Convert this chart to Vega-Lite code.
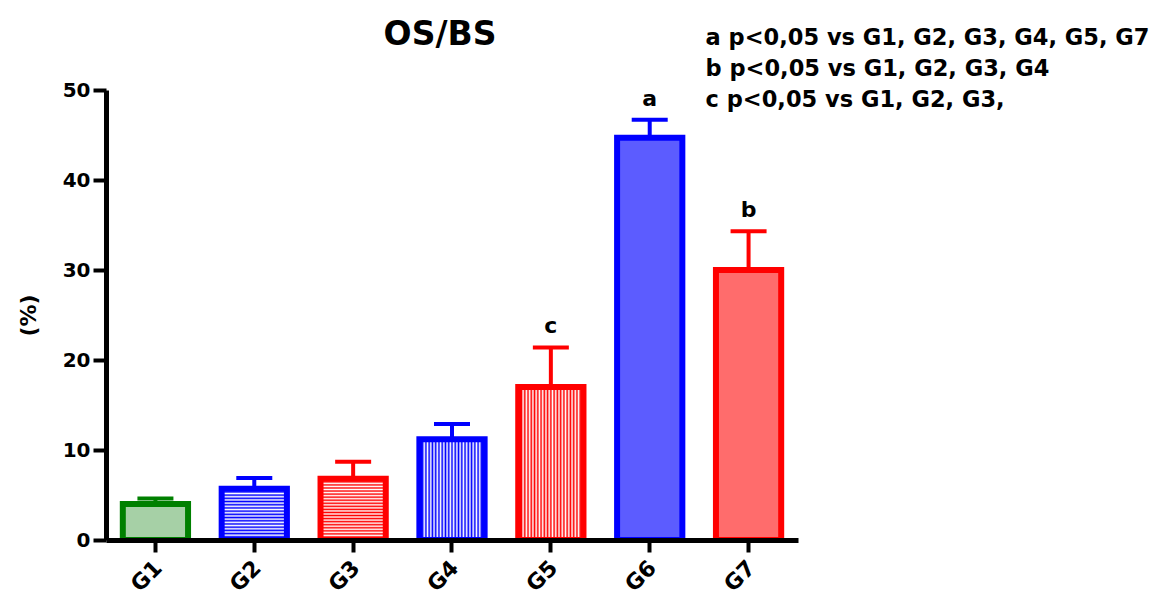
{
  "$schema": "https://vega.github.io/schema/vega-lite/v6.json",
  "width": 692,
  "height": 450,
  "autosize": {"type": "none"},
  "padding": {"left": 106, "top": 90, "right": 361, "bottom": 60},
  "background": "white",
  "config": {"view": {"stroke": null}, "font": "DejaVu Sans"},
  "title": {"text": "OS/BS", "font": "DejaVu Sans", "fontSize": 33, "fontWeight": "bold", "color": "black", "anchor": "middle", "frame": "group", "baseline": "alphabetic", "dx": -12, "offset": 0, "dy": 51},
  "data": {"values": [
    {"g": "G1", "mean": 4.0, "upper": 4.6, "sig": ""},
    {"g": "G2", "mean": 5.7, "upper": 6.9, "sig": ""},
    {"g": "G3", "mean": 6.8, "upper": 8.7, "sig": ""},
    {"g": "G4", "mean": 11.2, "upper": 12.9, "sig": ""},
    {"g": "G5", "mean": 17.0, "upper": 21.4, "sig": "c"},
    {"g": "G6", "mean": 44.7, "upper": 46.7, "sig": "a"},
    {"g": "G7", "mean": 30.0, "upper": 34.3, "sig": "b"}
  ]},
  "encoding": {
    "x": {"field": "g", "type": "nominal", "sort": null,
      "scale": {"paddingInner": 0.34, "paddingOuter": 0.17},
      "axis": {"title": null, "labelAngle": -45, "labelAlign": "right", "labelBaseline": "middle", "labelFont": "DejaVu Sans", "labelFontWeight": "bold", "labelFontSize": 22, "labelColor": "black", "labelPadding": 12, "labelOffset": 3, "domainColor": "black", "domainWidth": 5, "tickColor": "black", "tickWidth": 4, "tickSize": 12, "grid": false, "zindex": 1}}
  },
  "layer": [
    {
      "mark": {"type": "rule", "strokeWidth": 4, "opacity": 1},
      "encoding": {
        "y": {"field": "mean", "type": "quantitative", "scale": {"domain": [0, 50], "nice": false},
          "axis": {"title": "(%)", "titleFont": "DejaVu Sans", "titleFontSize": 22, "titleFontWeight": "bold", "titleColor": "black", "titlePadding": 22, "values": [0, 10, 20, 30, 40, 50], "labelFont": "DejaVu Sans", "labelFontSize": 20, "labelFontWeight": "bold", "labelColor": "black", "labelPadding": 3, "domainColor": "black", "domainWidth": 5, "tickColor": "black", "tickWidth": 4, "tickSize": 13, "grid": false, "zindex": 1}},
        "y2": {"field": "upper"},
        "color": {"field": "g", "type": "nominal", "scale": {"domain": ["G1","G2","G3","G4","G5","G6","G7"], "range": ["#008000","#0000ff","#ff0000","#0000ff","#ff0000","#0000ff","#ff0000"]}, "legend": null}
      }
    },
    {
      "mark": {"type": "tick", "size": 36, "thickness": 4, "opacity": 1},
      "encoding": {
        "y": {"field": "upper", "type": "quantitative"},
        "color": {"field": "g", "type": "nominal", "legend": null}
      }
    },
    {
      "mark": {"type": "bar", "strokeWidth": 6},
      "encoding": {
        "y": {"field": "mean", "type": "quantitative"},
        "stroke": {"field": "g", "type": "nominal", "scale": {"domain": ["G1","G2","G3","G4","G5","G6","G7"], "range": ["#008000","#0000ff","#ff0000","#0000ff","#ff0000","#0000ff","#ff0000"]}, "legend": null},
        "fill": {
          "condition": [
            {"test": "datum.g === 'G1'", "value": "#a6d0a6"},
            {"test": "datum.g === 'G6'", "value": "#5c5cff"},
            {"test": "datum.g === 'G7'", "value": "#ff6c6c"},
            {"test": "datum.g === 'G2'", "value": {"gradient": "linear", "x1": 0, "y1": 0, "x2": 0, "y2": 1, "stops": [
              {"offset": 0, "color": "#0000ff"}, {"offset": 0.03125, "color": "#ffffff"}, {"offset": 0.0625, "color": "#0000ff"}, {"offset": 0.09375, "color": "#ffffff"},
              {"offset": 0.125, "color": "#0000ff"}, {"offset": 0.15625, "color": "#ffffff"}, {"offset": 0.1875, "color": "#0000ff"}, {"offset": 0.21875, "color": "#ffffff"},
              {"offset": 0.25, "color": "#0000ff"}, {"offset": 0.28125, "color": "#ffffff"}, {"offset": 0.3125, "color": "#0000ff"}, {"offset": 0.34375, "color": "#ffffff"},
              {"offset": 0.375, "color": "#0000ff"}, {"offset": 0.40625, "color": "#ffffff"}, {"offset": 0.4375, "color": "#0000ff"}, {"offset": 0.46875, "color": "#ffffff"},
              {"offset": 0.5, "color": "#0000ff"}, {"offset": 0.53125, "color": "#ffffff"}, {"offset": 0.5625, "color": "#0000ff"}, {"offset": 0.59375, "color": "#ffffff"},
              {"offset": 0.625, "color": "#0000ff"}, {"offset": 0.65625, "color": "#ffffff"}, {"offset": 0.6875, "color": "#0000ff"}, {"offset": 0.71875, "color": "#ffffff"},
              {"offset": 0.75, "color": "#0000ff"}, {"offset": 0.78125, "color": "#ffffff"}, {"offset": 0.8125, "color": "#0000ff"}, {"offset": 0.84375, "color": "#ffffff"},
              {"offset": 0.875, "color": "#0000ff"}, {"offset": 0.90625, "color": "#ffffff"}, {"offset": 0.9375, "color": "#0000ff"}, {"offset": 0.96875, "color": "#ffffff"},
              {"offset": 1, "color": "#0000ff"}]}},
            {"test": "datum.g === 'G3'", "value": {"gradient": "linear", "x1": 0, "y1": 0, "x2": 0, "y2": 1, "stops": [
              {"offset": 0, "color": "#ff0000"}, {"offset": 0.025, "color": "#ffffff"}, {"offset": 0.05, "color": "#ff0000"}, {"offset": 0.075, "color": "#ffffff"},
              {"offset": 0.1, "color": "#ff0000"}, {"offset": 0.125, "color": "#ffffff"}, {"offset": 0.15, "color": "#ff0000"}, {"offset": 0.175, "color": "#ffffff"},
              {"offset": 0.2, "color": "#ff0000"}, {"offset": 0.225, "color": "#ffffff"}, {"offset": 0.25, "color": "#ff0000"}, {"offset": 0.275, "color": "#ffffff"},
              {"offset": 0.3, "color": "#ff0000"}, {"offset": 0.325, "color": "#ffffff"}, {"offset": 0.35, "color": "#ff0000"}, {"offset": 0.375, "color": "#ffffff"},
              {"offset": 0.4, "color": "#ff0000"}, {"offset": 0.425, "color": "#ffffff"}, {"offset": 0.45, "color": "#ff0000"}, {"offset": 0.475, "color": "#ffffff"},
              {"offset": 0.5, "color": "#ff0000"}, {"offset": 0.525, "color": "#ffffff"}, {"offset": 0.55, "color": "#ff0000"}, {"offset": 0.575, "color": "#ffffff"},
              {"offset": 0.6, "color": "#ff0000"}, {"offset": 0.625, "color": "#ffffff"}, {"offset": 0.65, "color": "#ff0000"}, {"offset": 0.675, "color": "#ffffff"},
              {"offset": 0.7, "color": "#ff0000"}, {"offset": 0.725, "color": "#ffffff"}, {"offset": 0.75, "color": "#ff0000"}, {"offset": 0.775, "color": "#ffffff"},
              {"offset": 0.8, "color": "#ff0000"}, {"offset": 0.825, "color": "#ffffff"}, {"offset": 0.85, "color": "#ff0000"}, {"offset": 0.875, "color": "#ffffff"},
              {"offset": 0.9, "color": "#ff0000"}, {"offset": 0.925, "color": "#ffffff"}, {"offset": 0.95, "color": "#ff0000"}, {"offset": 0.975, "color": "#ffffff"},
              {"offset": 1, "color": "#ff0000"}]}},
            {"test": "datum.g === 'G4'", "value": {"gradient": "linear", "x1": 0, "y1": 0, "x2": 1, "y2": 0, "stops": [
              {"offset": 0, "color": "#0000ff"}, {"offset": 0.025, "color": "#ffffff"}, {"offset": 0.05, "color": "#0000ff"}, {"offset": 0.075, "color": "#ffffff"},
              {"offset": 0.1, "color": "#0000ff"}, {"offset": 0.125, "color": "#ffffff"}, {"offset": 0.15, "color": "#0000ff"}, {"offset": 0.175, "color": "#ffffff"},
              {"offset": 0.2, "color": "#0000ff"}, {"offset": 0.225, "color": "#ffffff"}, {"offset": 0.25, "color": "#0000ff"}, {"offset": 0.275, "color": "#ffffff"},
              {"offset": 0.3, "color": "#0000ff"}, {"offset": 0.325, "color": "#ffffff"}, {"offset": 0.35, "color": "#0000ff"}, {"offset": 0.375, "color": "#ffffff"},
              {"offset": 0.4, "color": "#0000ff"}, {"offset": 0.425, "color": "#ffffff"}, {"offset": 0.45, "color": "#0000ff"}, {"offset": 0.475, "color": "#ffffff"},
              {"offset": 0.5, "color": "#0000ff"}, {"offset": 0.525, "color": "#ffffff"}, {"offset": 0.55, "color": "#0000ff"}, {"offset": 0.575, "color": "#ffffff"},
              {"offset": 0.6, "color": "#0000ff"}, {"offset": 0.625, "color": "#ffffff"}, {"offset": 0.65, "color": "#0000ff"}, {"offset": 0.675, "color": "#ffffff"},
              {"offset": 0.7, "color": "#0000ff"}, {"offset": 0.725, "color": "#ffffff"}, {"offset": 0.75, "color": "#0000ff"}, {"offset": 0.775, "color": "#ffffff"},
              {"offset": 0.8, "color": "#0000ff"}, {"offset": 0.825, "color": "#ffffff"}, {"offset": 0.85, "color": "#0000ff"}, {"offset": 0.875, "color": "#ffffff"},
              {"offset": 0.9, "color": "#0000ff"}, {"offset": 0.925, "color": "#ffffff"}, {"offset": 0.95, "color": "#0000ff"}, {"offset": 0.975, "color": "#ffffff"},
              {"offset": 1, "color": "#0000ff"}]}},
            {"test": "datum.g === 'G5'", "value": {"gradient": "linear", "x1": 0, "y1": 0, "x2": 1, "y2": 0, "stops": [
              {"offset": 0, "color": "#ff0000"}, {"offset": 0.025, "color": "#ffffff"}, {"offset": 0.05, "color": "#ff0000"}, {"offset": 0.075, "color": "#ffffff"},
              {"offset": 0.1, "color": "#ff0000"}, {"offset": 0.125, "color": "#ffffff"}, {"offset": 0.15, "color": "#ff0000"}, {"offset": 0.175, "color": "#ffffff"},
              {"offset": 0.2, "color": "#ff0000"}, {"offset": 0.225, "color": "#ffffff"}, {"offset": 0.25, "color": "#ff0000"}, {"offset": 0.275, "color": "#ffffff"},
              {"offset": 0.3, "color": "#ff0000"}, {"offset": 0.325, "color": "#ffffff"}, {"offset": 0.35, "color": "#ff0000"}, {"offset": 0.375, "color": "#ffffff"},
              {"offset": 0.4, "color": "#ff0000"}, {"offset": 0.425, "color": "#ffffff"}, {"offset": 0.45, "color": "#ff0000"}, {"offset": 0.475, "color": "#ffffff"},
              {"offset": 0.5, "color": "#ff0000"}, {"offset": 0.525, "color": "#ffffff"}, {"offset": 0.55, "color": "#ff0000"}, {"offset": 0.575, "color": "#ffffff"},
              {"offset": 0.6, "color": "#ff0000"}, {"offset": 0.625, "color": "#ffffff"}, {"offset": 0.65, "color": "#ff0000"}, {"offset": 0.675, "color": "#ffffff"},
              {"offset": 0.7, "color": "#ff0000"}, {"offset": 0.725, "color": "#ffffff"}, {"offset": 0.75, "color": "#ff0000"}, {"offset": 0.775, "color": "#ffffff"},
              {"offset": 0.8, "color": "#ff0000"}, {"offset": 0.825, "color": "#ffffff"}, {"offset": 0.85, "color": "#ff0000"}, {"offset": 0.875, "color": "#ffffff"},
              {"offset": 0.9, "color": "#ff0000"}, {"offset": 0.925, "color": "#ffffff"}, {"offset": 0.95, "color": "#ff0000"}, {"offset": 0.975, "color": "#ffffff"},
              {"offset": 1, "color": "#ff0000"}]}}
          ],
          "value": "#ffffff"
        }
      }
    },
    {
      "mark": {"type": "text", "font": "DejaVu Sans", "fontSize": 22, "fontWeight": "bold", "color": "black", "baseline": "alphabetic", "dy": -14},
      "encoding": {
        "y": {"field": "upper", "type": "quantitative"},
        "text": {"field": "sig"}
      }
    },
    {
      "data": {"values": [{"note": "a p<0,05 vs G1, G2, G3, G4, G5, G7\nb p<0,05 vs G1, G2, G3, G4\nc p<0,05 vs G1, G2, G3,"}]},
      "mark": {"type": "text", "font": "DejaVu Sans", "fontSize": 22.5, "fontWeight": "bold", "color": "black", "align": "left", "baseline": "alphabetic", "lineBreak": "\n", "lineHeight": 31, "dx": -43},
      "encoding": {
        "x": {"datum": "G7"},
        "y": {"datum": 55},
        "text": {"field": "note"}
      }
    }
  ]
}
